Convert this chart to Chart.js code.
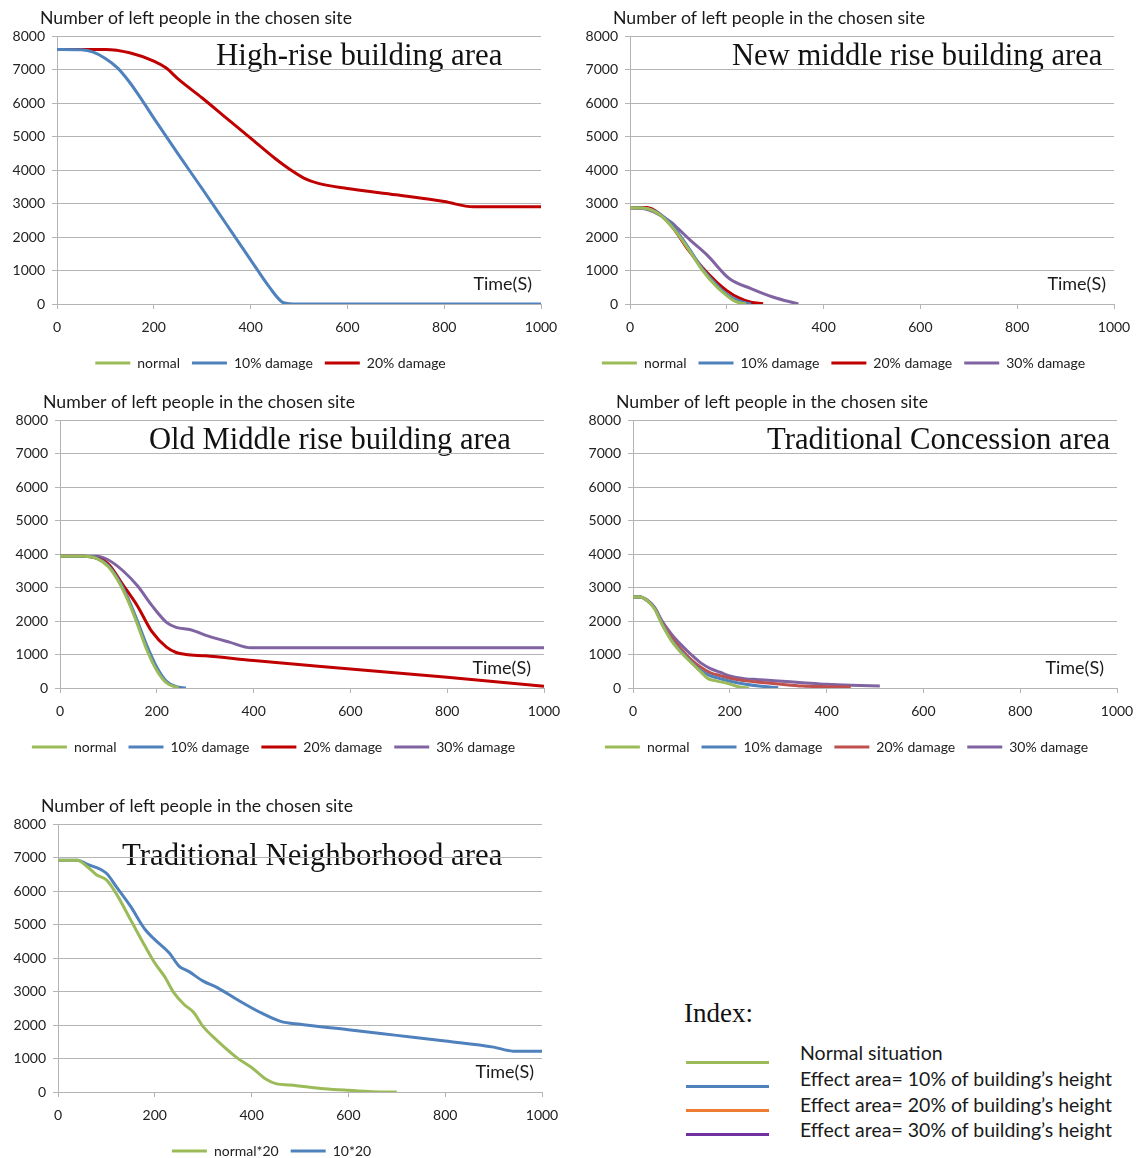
<!DOCTYPE html>
<html lang="en">
<head>
    <meta charset="UTF-8">
    <title>Number of left people in the chosen site</title>
    <script src="https://cdn.jsdelivr.net/npm/chart.js"></script>
    <style>
        body { margin: 0; background: #fff; overflow: hidden; }
        #page { position: relative; width: 1137px; height: 1158px; }
        canvas { position: absolute; }
        .index-title { position: absolute; left: 684px; top: 998px; font: 27px "Liberation Serif", serif; color: #111; }
        .index-line { position: absolute; left: 686px; width: 83px; height: 3px; }
        .index-text { position: absolute; left: 800px; font: 19.5px Lato, sans-serif; color: #1a1a1a; white-space: nowrap; }
    </style>
</head>
<body>
<div id="page">
    <canvas id="chartHigh" width="565" height="380" style="left:0;top:0"></canvas>
    <canvas id="chartNewMid" width="565" height="380" style="left:573px;top:0"></canvas>
    <canvas id="chartOldMid" width="565" height="380" style="left:3px;top:384px"></canvas>
    <canvas id="chartConcession" width="565" height="380" style="left:576px;top:384px"></canvas>
    <canvas id="chartNeighborhood" width="565" height="380" style="left:1px;top:788px"></canvas>

    <div class="index-title">Index:</div>
    <div class="index-line" style="top:1061px;background:#9bbb59"></div>
    <div class="index-line" style="top:1085px;background:#4f81bd"></div>
    <div class="index-line" style="top:1109px;background:#ed7d31"></div>
    <div class="index-line" style="top:1133px;background:#7030a0"></div>
    <div class="index-text" style="top:1041px">Normal situation</div>
    <div class="index-text" style="top:1067px">Effect area= 10% of building’s height</div>
    <div class="index-text" style="top:1093px">Effect area= 20% of building’s height</div>
    <div class="index-text" style="top:1118px">Effect area= 30% of building’s height</div>
</div>

<script>
    // axis ticks
    const xTicks = [0, 200, 400, 600, 800, 1000];
    const yTicks = [0, 1000, 2000, 3000, 4000, 5000, 6000, 7000, 8000];
    const yTitle = 'Number of left people in the chosen site';
    const xTitle = 'Time(S)';

    // High-rise building area
    const highT10 = [0, 50, 75, 100, 125, 150, 175, 200, 250, 300, 350, 400, 440, 465, 480, 500, 1000];
    const highV10 = [7600, 7590, 7520, 7330, 7050, 6620, 6100, 5550, 4480, 3440, 2380, 1320, 480, 60, 10, 0, 0];
    const highT20 = [0, 100, 150, 200, 225, 250, 300, 350, 400, 450, 480, 510, 540, 600, 700, 800, 860, 1000];
    const highV20 = [7600, 7600, 7500, 7250, 7050, 6720, 6150, 5550, 4950, 4350, 4030, 3760, 3600, 3450, 3260, 3060, 2900, 2900];

    // New middle rise building area
    const newTN = [0, 30, 60, 90, 120, 150, 180, 200, 220, 240];
    const newVN = [2870, 2860, 2680, 2250, 1650, 1000, 500, 250, 60, 0];
    const newT10 = [0, 30, 60, 90, 120, 150, 180, 200, 225, 250];
    const newV10 = [2870, 2860, 2700, 2300, 1700, 1050, 560, 290, 90, 0];
    const newT20 = [0, 35, 60, 90, 120, 150, 180, 200, 225, 250, 275];
    const newV20 = [2870, 2880, 2700, 2250, 1620, 1080, 640, 400, 180, 50, 10];
    const newT30 = [0, 30, 50, 85, 100, 125, 160, 205, 250, 295, 348];
    const newV30 = [2870, 2840, 2740, 2440, 2240, 1900, 1450, 760, 460, 210, 0];

    // Old Middle rise building area
    const oldTN = [0, 50, 75, 100, 120, 140, 160, 180, 200, 220, 245];
    const oldVN = [3930, 3930, 3870, 3620, 3200, 2620, 1900, 1120, 520, 150, 0];
    const oldT10 = [0, 50, 75, 100, 120, 140, 160, 180, 200, 220, 240, 260];
    const oldV10 = [3930, 3930, 3880, 3650, 3250, 2700, 2000, 1250, 620, 200, 40, 0];
    const oldT20 = [0, 50, 75, 100, 130, 160, 190, 220, 240, 260, 300, 400, 600, 800, 1000];
    const oldV20 = [3930, 3930, 3880, 3700, 3080, 2450, 1680, 1220, 1060, 1000, 960, 820, 570, 320, 50];
    const oldT30 = [0, 75, 100, 130, 160, 190, 220, 240, 270, 300, 350, 395, 1000];
    const oldV30 = [3930, 3930, 3820, 3500, 3050, 2460, 1960, 1810, 1740, 1580, 1370, 1200, 1200];

    // Traditional Concession area
    const conTN = [0, 15, 30, 45, 60, 80, 100, 120, 140, 155, 170, 200, 220, 240];
    const conVN = [2720, 2720, 2600, 2350, 1900, 1400, 1050, 760, 480, 280, 220, 120, 30, 0];
    const conT10 = [0, 15, 30, 45, 60, 80, 100, 120, 140, 160, 180, 200, 230, 260, 300];
    const conV10 = [2720, 2720, 2600, 2370, 1920, 1420, 1080, 780, 520, 360, 280, 200, 120, 60, 10];
    const conT20 = [0, 15, 30, 45, 60, 80, 100, 120, 140, 160, 180, 200, 230, 260, 300, 350, 400, 450];
    const conV20 = [2720, 2720, 2600, 2380, 1950, 1500, 1150, 850, 620, 450, 370, 290, 220, 170, 120, 60, 40, 30];
    const conT30 = [0, 15, 30, 45, 60, 80, 100, 120, 140, 160, 180, 200, 230, 260, 300, 350, 400, 450, 510];
    const conV30 = [2720, 2720, 2620, 2400, 2000, 1600, 1280, 1000, 750, 580, 470, 360, 280, 250, 210, 160, 110, 80, 60];

    // Traditional Neighborhood area
    const nbrTN = [0, 40, 60, 80, 100, 120, 150, 180, 200, 220, 240, 260, 280, 300, 330, 370, 400, 430, 450, 480, 550, 600, 650, 700];
    const nbrVN = [6920, 6920, 6730, 6480, 6330, 5930, 5140, 4350, 3850, 3450, 2950, 2620, 2380, 1950, 1520, 1020, 730, 380, 250, 210, 100, 50, 10, 0];
    const nbrT10 = [0, 40, 60, 100, 120, 150, 180, 200, 230, 250, 270, 300, 330, 370, 420, 460, 500, 600, 700, 800, 900, 940, 1000];
    const nbrV10 = [6920, 6920, 6800, 6530, 6140, 5540, 4850, 4550, 4150, 3760, 3600, 3310, 3110, 2760, 2360, 2110, 2020, 1860, 1690, 1520, 1340, 1220, 1220];

    const GREEN = '#9bbb59', BLUE = '#4f81bd', DARKRED = '#c00000', RED = '#c0504d', PURPLE = '#8064a2';
    const SANS = 'Lato, "Liberation Sans", sans-serif';
    const GRID = '#b4b4b4';

    function pts(t, v) {
        return t.map((x, i) => ({ x: x, y: v[i] }));
    }

    function series(label, t, v, color) {
        return {
            label: label,
            data: pts(t, v),
            borderColor: color,
            backgroundColor: color,
            borderWidth: 3,
            pointRadius: 0,
            cubicInterpolationMode: 'monotone',
            fill: false
        };
    }

    // draws the texts that sit around/inside the plot area
    const overlayText = {
        id: 'overlayText',
        beforeDraw(chart, args, opts) {
            const { ctx, chartArea } = chart;
            ctx.save();
            ctx.fillStyle = '#1a1a1a';
            ctx.textBaseline = 'middle';
            ctx.textAlign = 'left';
            ctx.font = '18px ' + SANS;
            ctx.fillText(yTitle, chartArea.left - 17, chartArea.top - 18, 312);

            ctx.textAlign = 'right';
            ctx.fillText(xTitle, chartArea.right - opts.timeRight, chartArea.bottom - 20, 59);

            // area name, sized so it spans the same width as in the figure
            ctx.fillStyle = '#111';
            ctx.textAlign = 'left';
            ctx.font = '27px "Liberation Serif", serif';
            const w = ctx.measureText(opts.area).width;
            const size = 27 * opts.areaWidth / w;
            ctx.font = size.toFixed(1) + 'px "Liberation Serif", serif';
            ctx.fillText(opts.area, chartArea.left + opts.areaLeft, chartArea.top + opts.areaY);
            ctx.restore();
        }
    };

    function makeChart(id, datasets, area) {
        const config = {
            type: 'line',
            data: { datasets: datasets },
            options: {
                responsive: false,
                animation: false,
                layout: { padding: { top: 36, right: 24, left: 0, bottom: 0 } },
                scales: {
                    x: {
                        type: 'linear',
                        min: 0,
                        max: 1000,
                        afterBuildTicks: s => { s.ticks = xTicks.map(v => ({ value: v })); },
                        afterFit: s => { s.height = 40; s.paddingLeft = 0; s.paddingRight = 0; },
                        grid: { drawOnChartArea: false, drawTicks: true, tickLength: 5, color: GRID },
                        border: { color: GRID, width: 1 },
                        ticks: { color: '#222', font: { family: SANS, size: 14 }, padding: 10, maxRotation: 0, callback: v => String(v) }
                    },
                    y: {
                        min: 0,
                        max: 8000,
                        afterBuildTicks: s => { s.ticks = yTicks.map(v => ({ value: v })); },
                        afterFit: s => { s.width = 57; },
                        grid: { color: GRID, lineWidth: 1, tickLength: 5 },
                        border: { color: GRID, width: 1 },
                        ticks: { color: '#222', font: { family: SANS, size: 14 }, padding: 7, callback: v => String(v) }
                    }
                },
                plugins: {
                    legend: {
                        position: 'bottom',
                        labels: {
                            boxWidth: 35,
                            boxHeight: 3,
                            padding: 12,
                            color: '#222',
                            font: { family: SANS, size: 14 },
                            generateLabels: chart => Chart.defaults.plugins.legend.labels.generateLabels(chart)
                                .map(item => Object.assign(item, { lineWidth: 0 }))
                        }
                    },
                    tooltip: { enabled: false },
                    overlayText: area
                }
            },
            plugins: [overlayText]
        };
        return new Chart(document.getElementById(id).getContext('2d'), config);
    }

    makeChart('chartHigh', [
        series('normal', [], [], GREEN),
        series('10% damage', highT10, highV10, BLUE),
        series('20% damage', highT20, highV20, DARKRED)
    ], { area: 'High-rise building area', areaLeft: 159, areaY: 21, areaWidth: 287, timeRight: 9 });

    makeChart('chartNewMid', [
        series('normal', newTN, newVN, GREEN),
        series('10% damage', newT10, newV10, BLUE),
        series('20% damage', newT20, newV20, DARKRED),
        series('30% damage', newT30, newV30, PURPLE)
    ], { area: 'New middle rise building area', areaLeft: 102, areaY: 21, areaWidth: 370, timeRight: 8 });

    makeChart('chartOldMid', [
        series('normal', oldTN, oldVN, GREEN),
        series('10% damage', oldT10, oldV10, BLUE),
        series('20% damage', oldT20, oldV20, DARKRED),
        series('30% damage', oldT30, oldV30, PURPLE)
    ], { area: 'Old Middle rise building area', areaLeft: 89, areaY: 21, areaWidth: 362, timeRight: 13 });

    makeChart('chartConcession', [
        series('normal', conTN, conVN, GREEN),
        series('10% damage', conT10, conV10, BLUE),
        series('20% damage', conT20, conV20, RED),
        series('30% damage', conT30, conV30, PURPLE)
    ], { area: 'Traditional Concession area', areaLeft: 134, areaY: 21, areaWidth: 343, timeRight: 13 });

    makeChart('chartNeighborhood', [
        series('normal*20', nbrTN, nbrVN, GREEN),
        series('10*20', nbrT10, nbrV10, BLUE)
    ], { area: 'Traditional Neighborhood area', areaLeft: 64, areaY: 33, areaWidth: 380, timeRight: 8 });
</script>
</body>
</html>
